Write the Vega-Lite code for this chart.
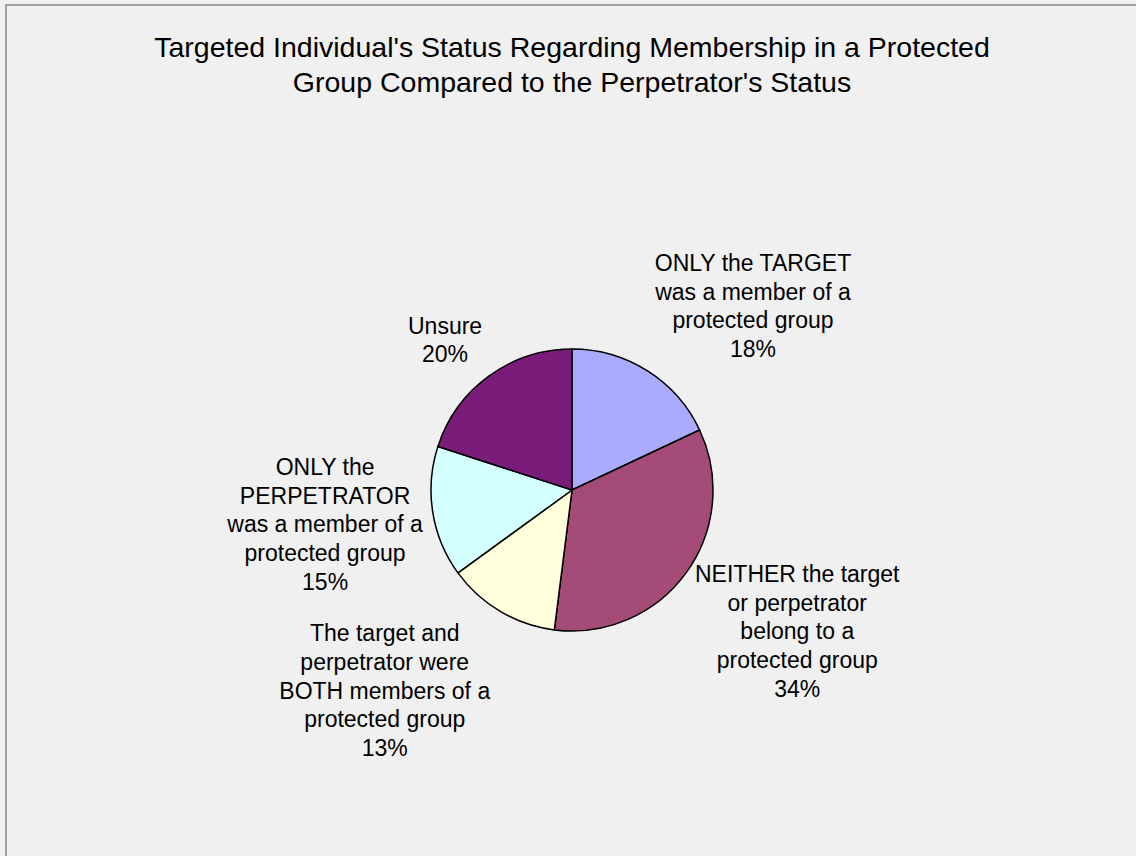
{
  "$schema": "https://vega.github.io/schema/vega-lite/v6.json",
  "autosize": {"type": "none"},
  "padding": {"left": 6, "top": 5, "right": -2, "bottom": -119},
  "width": 1132,
  "height": 970,
  "background": "#f0f0f0",
  "view": {"stroke": "#a0a0a0", "strokeWidth": 2},
  "title": {
    "text": ["Targeted Individual's Status Regarding Membership in a Protected", "Group Compared to the Perpetrator's Status"],
    "font": "Liberation Sans",
    "fontSize": 28.5,
    "fontWeight": "normal",
    "lineHeight": 35,
    "color": "#000000",
    "anchor": "middle",
    "offset": -92
  },
  "config": {"view": {"stroke": "#a0a0a0", "strokeWidth": 2}},
  "data": {
    "values": [
      {"category": "ONLY the TARGET\nwas a member of a\nprotected group", "pct": 18, "slice": 1},
      {"category": "NEITHER the target\nor perpetrator\nbelong to a\nprotected group", "pct": 34, "slice": 2},
      {"category": "The target and\nperpetrator were\nBOTH members of a\nprotected group", "pct": 13, "slice": 3},
      {"category": "ONLY the\nPERPETRATOR\nwas a member of a\nprotected group", "pct": 15, "slice": 4},
      {"category": "Unsure", "pct": 20, "slice": 5}
    ]
  },
  "transform": [{"calculate": "datum.category + '\\n' + datum.pct + '%'", "as": "label"}],
  "layer": [
    {
      "mark": {"type": "point", "opacity": 0},
      "encoding": {
        "x": {"field": "slice", "type": "quantitative", "axis": null},
        "y": {"field": "pct", "type": "quantitative", "axis": null}
      }
    },
    {
      "mark": {"type": "arc", "radius": 141, "stroke": "#000000", "strokeWidth": 1.5},
      "encoding": {
        "theta": {"field": "pct", "type": "quantitative", "stack": true},
        "order": {"field": "slice", "type": "quantitative"},
        "color": {
          "field": "category",
          "type": "nominal",
          "scale": {
            "domain": [
              "ONLY the TARGET\nwas a member of a\nprotected group",
              "NEITHER the target\nor perpetrator\nbelong to a\nprotected group",
              "The target and\nperpetrator were\nBOTH members of a\nprotected group",
              "ONLY the\nPERPETRATOR\nwas a member of a\nprotected group",
              "Unsure"
            ],
            "range": ["#aaaaff", "#a54b78", "#ffffdb", "#d4ffff", "#7a1c7a"]
          },
          "legend": null
        }
      }
    },
    {
      "mark": {"type": "text", "radius": 250, "font": "Liberation Sans", "fontSize": 23, "lineBreak": "\n", "lineHeight": 28.7, "align": "center", "baseline": "middle", "color": "#000000", "dx": 47, "dy": -15},
      "encoding": {
        "theta": {"field": "pct", "type": "quantitative", "stack": true},
        "order": {"field": "slice", "type": "quantitative"},
        "detail": {"field": "category", "type": "nominal"},
        "text": {"condition": {"test": "datum.slice === 1", "field": "label", "type": "nominal"}, "value": ""}
      }
    },
    {
      "mark": {"type": "text", "radius": 250, "font": "Liberation Sans", "fontSize": 23, "lineBreak": "\n", "lineHeight": 28.7, "align": "center", "baseline": "middle", "color": "#000000", "dx": 23, "dy": -62},
      "encoding": {
        "theta": {"field": "pct", "type": "quantitative", "stack": true},
        "order": {"field": "slice", "type": "quantitative"},
        "detail": {"field": "category", "type": "nominal"},
        "text": {"condition": {"test": "datum.slice === 2", "field": "label", "type": "nominal"}, "value": ""}
      }
    },
    {
      "mark": {"type": "text", "radius": 250, "font": "Liberation Sans", "fontSize": 23, "lineBreak": "\n", "lineHeight": 28.7, "align": "center", "baseline": "middle", "color": "#000000", "dx": -60, "dy": -71},
      "encoding": {
        "theta": {"field": "pct", "type": "quantitative", "stack": true},
        "order": {"field": "slice", "type": "quantitative"},
        "detail": {"field": "category", "type": "nominal"},
        "text": {"condition": {"test": "datum.slice === 3", "field": "label", "type": "nominal"}, "value": ""}
      }
    },
    {
      "mark": {"type": "text", "radius": 250, "font": "Liberation Sans", "fontSize": 23, "lineBreak": "\n", "lineHeight": 28.7, "align": "center", "baseline": "middle", "color": "#000000", "dx": 0, "dy": -61},
      "encoding": {
        "theta": {"field": "pct", "type": "quantitative", "stack": true},
        "order": {"field": "slice", "type": "quantitative"},
        "detail": {"field": "category", "type": "nominal"},
        "text": {"condition": {"test": "datum.slice === 4", "field": "label", "type": "nominal"}, "value": ""}
      }
    },
    {
      "mark": {"type": "text", "radius": 250, "font": "Liberation Sans", "fontSize": 23, "lineBreak": "\n", "lineHeight": 28.7, "align": "center", "baseline": "middle", "color": "#000000", "dx": 20, "dy": 39},
      "encoding": {
        "theta": {"field": "pct", "type": "quantitative", "stack": true},
        "order": {"field": "slice", "type": "quantitative"},
        "detail": {"field": "category", "type": "nominal"},
        "text": {"condition": {"test": "datum.slice === 5", "field": "label", "type": "nominal"}, "value": ""}
      }
    }
  ]
}
